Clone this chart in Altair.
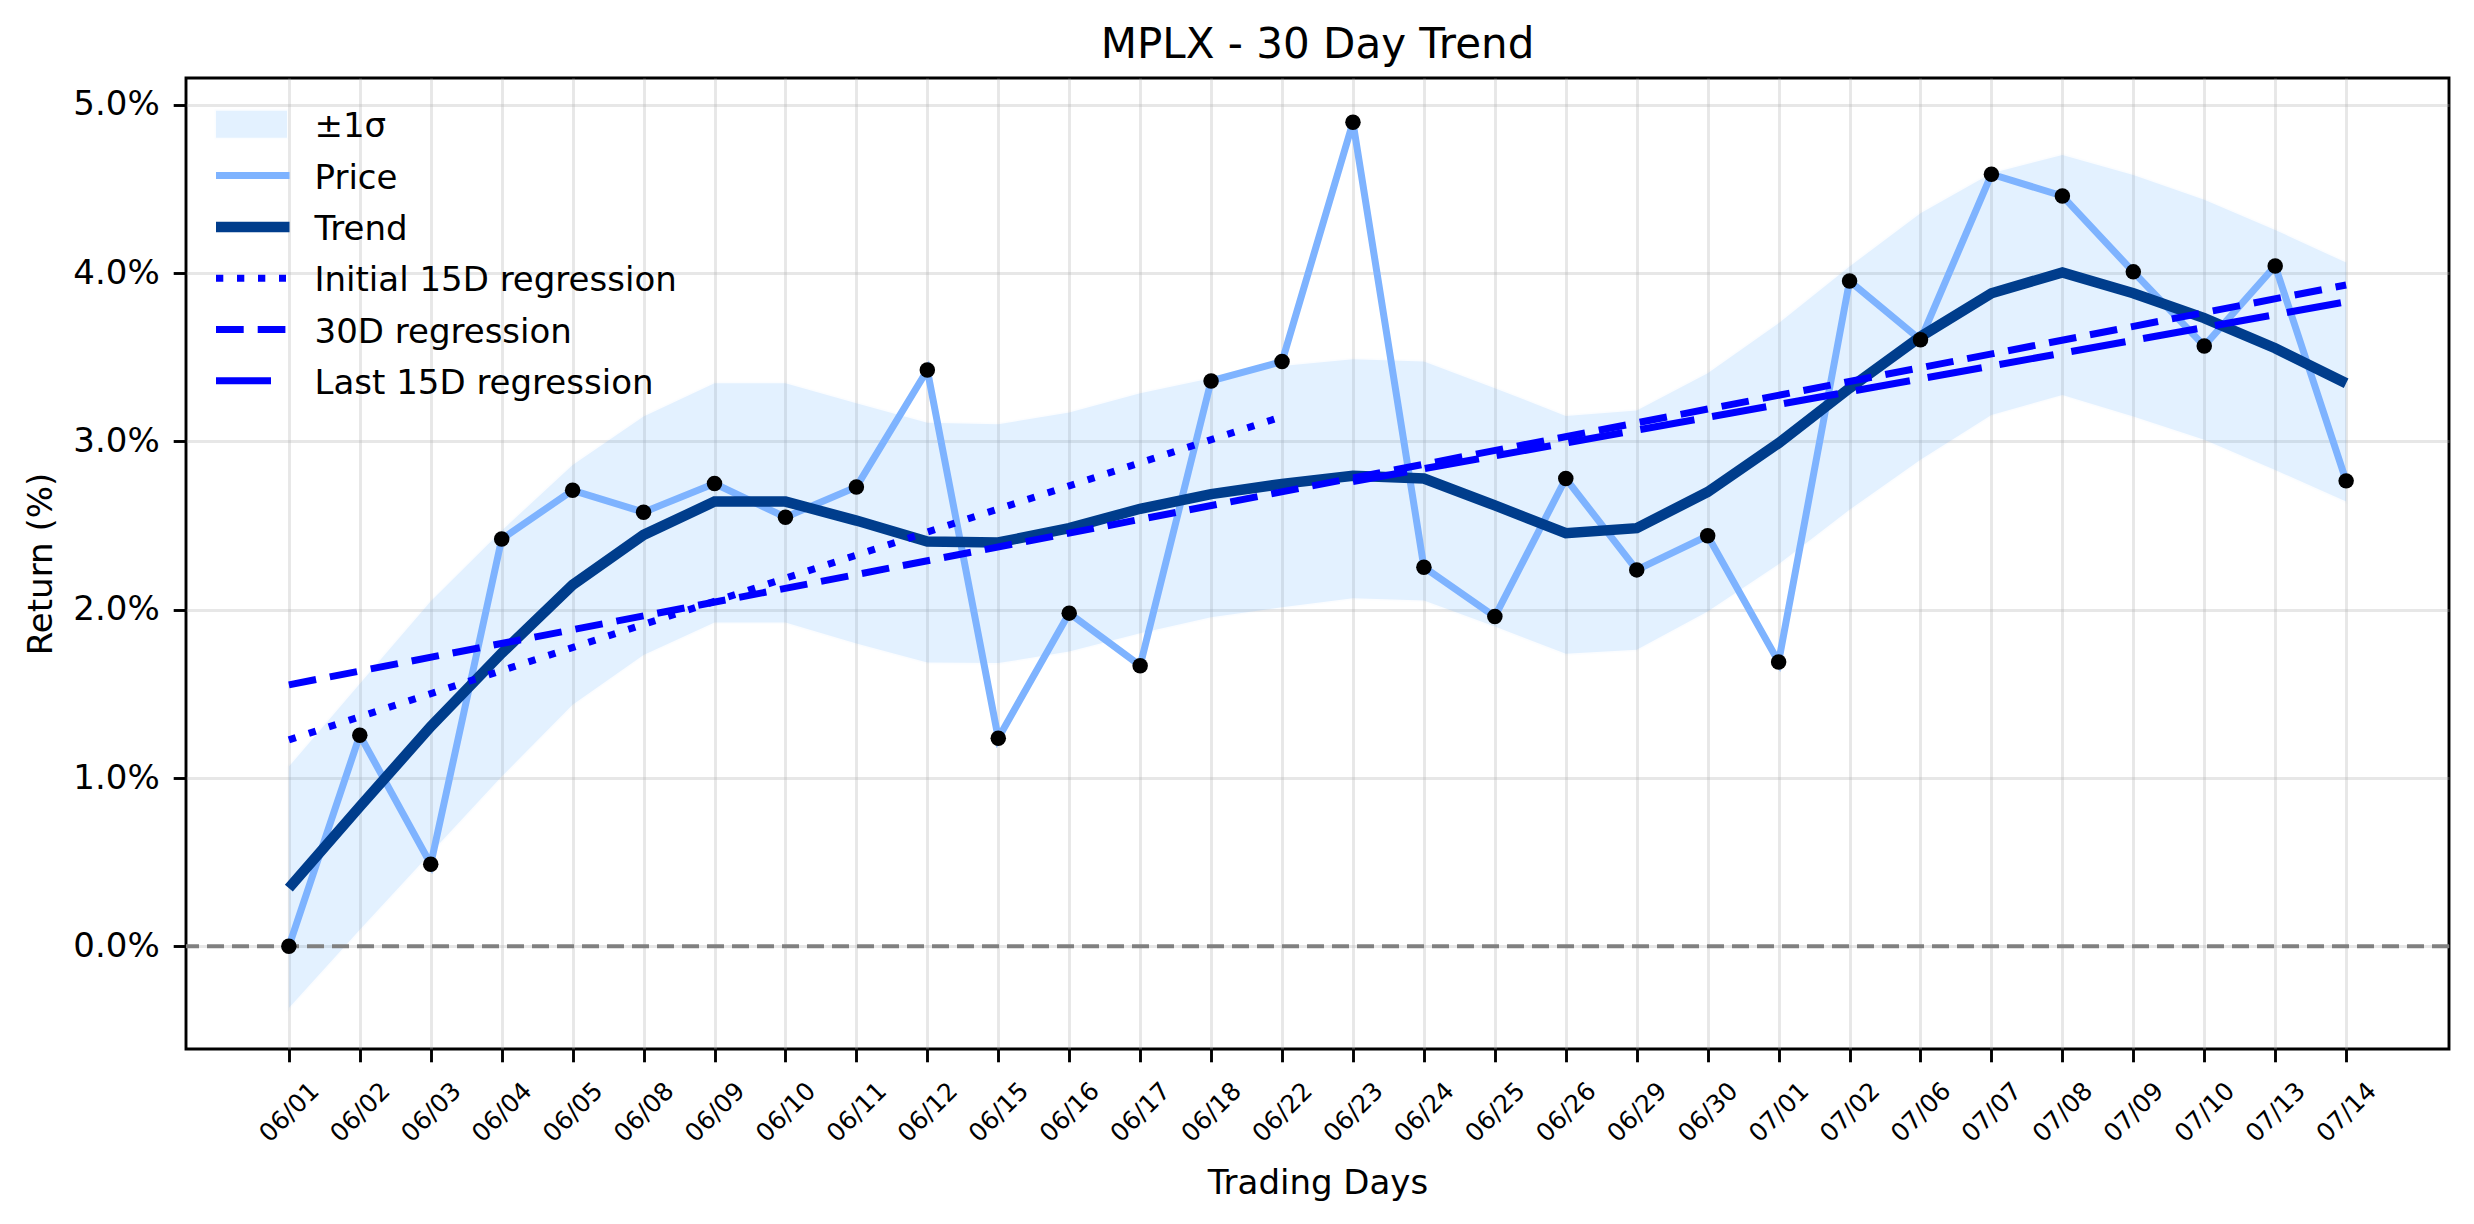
import altair as alt
import pandas as pd

# ---------------- data ----------------
dates = ["06/01", "06/02", "06/03", "06/04", "06/05", "06/08", "06/09", "06/10",
         "06/11", "06/12", "06/15", "06/16", "06/17", "06/18", "06/22", "06/23",
         "06/24", "06/25", "06/26", "06/29", "06/30", "07/01", "07/02", "07/06",
         "07/07", "07/08", "07/09", "07/10", "07/13", "07/14"]

price = [0.00, 1.255, 0.488, 2.42, 2.71, 2.58, 2.75, 2.55, 2.73, 3.425,
         1.237, 1.98, 1.668, 3.36, 3.475, 4.897, 2.253, 1.96, 2.78, 2.237,
         2.44, 1.69, 3.954, 3.604, 4.588, 4.459, 4.008, 3.568, 4.043, 2.766]

trend = [0.346, 0.83, 1.306, 1.742, 2.148, 2.445, 2.643, 2.643, 2.53, 2.405,
         2.40, 2.485, 2.60, 2.687, 2.748, 2.796, 2.78, 2.62, 2.455, 2.485,
         2.70, 2.99, 3.317, 3.623, 3.881, 4.004, 3.881, 3.733, 3.554, 3.346]

band_upper = [1.068, 1.56, 2.05, 2.47, 2.861, 3.148, 3.346, 3.346, 3.227, 3.112,
              3.103, 3.172, 3.287, 3.376, 3.449, 3.489, 3.475, 3.317, 3.152, 3.184,
              3.406, 3.703, 4.04, 4.357, 4.594, 4.703, 4.584, 4.436, 4.257, 4.063]

band_lower = [-0.367, 0.098, 0.554, 1.009, 1.435, 1.732, 1.924, 1.924, 1.80, 1.687,
              1.683, 1.752, 1.861, 1.956, 2.015, 2.069, 2.055, 1.90, 1.738, 1.762,
              1.99, 2.27, 2.594, 2.891, 3.158, 3.277, 3.148, 3.01, 2.831, 2.643]

# regression lines: day index of the ends and value at the ends
reg_initial_idx = [0, 14]
reg_initial_val = [1.227, 3.148]
reg_30d_idx = [0, 29]
reg_30d_val = [1.554, 3.93]
reg_last_idx = [15, 29]
reg_last_val = [2.762, 3.83]

zero_level = [0.0]
y_ticks = [0, 1, 2, 3, 4, 5]

chart_title = "MPLX - 30 Day Trend"
legend_labels = ["\u00b11\u03c3", "Price", "Trend", "Initial 15D regression",
                 "30D regression", "Last 15D regression"]

# ---------------- styling ----------------
FONT = "DejaVu Sans"
W, H = 2263, 971
C_BAND = "#4da6ff"
C_PRICE = "#7eb3ff"
C_TREND = "#003d8c"
C_REG = "#0000ff"

df = pd.DataFrame({
    "idx": list(range(len(dates))),
    "date": dates,
    "price": price,
    "trend": trend,
    "upper": band_upper,
    "lower": band_lower,
})

x_scale = alt.Scale(domain=[-1.45, len(dates) - 1 + 1.45], nice=False, zero=False)
y_scale = alt.Scale(domain=[-0.61, 5.16], nice=False, zero=False)

label_expr = "[" + ",".join("'" + d + "'" for d in dates) + "][datum.value]"

x_axis = alt.Axis(
    values=list(range(len(dates))), labelExpr=label_expr,
    labelAngle=315, labelAlign="center", labelBaseline="middle",
    labelPadding=50, labelFontSize=25, labelOverlap=False, labelFlush=False,
    title="Trading Days", titleFontSize=34, titleY=144, titleBaseline="alphabetic",
)
y_axis = alt.Axis(
    values=y_ticks, labelExpr="format(datum.value, '.1f') + '%'",
    labelFontSize=34, labelPadding=14,
    title="Return (%)", titleFontSize=34, titleX=-135, titleBaseline="alphabetic",
)

X = alt.X("idx:Q", scale=x_scale, axis=x_axis)


def Y(field):
    return alt.Y(field + ":Q", scale=y_scale, axis=y_axis)


base = alt.Chart(df)

band = base.mark_area(color=C_BAND, opacity=0.15, stroke=C_BAND,
                      strokeOpacity=0.12, strokeWidth=3).encode(
    x=X, y=Y("lower"), y2="upper:Q")

zero = alt.Chart(pd.DataFrame({"v": zero_level})).mark_rule(
    color="#808080", strokeWidth=4, strokeDash=[17, 8]).encode(y=Y("v"))

price_line = base.mark_line(color=C_PRICE, strokeWidth=7).encode(x=X, y=Y("price"))
trend_line = base.mark_line(color=C_TREND, strokeWidth=10.5).encode(x=X, y=Y("trend"))


def reg_layer(idx, val, dash):
    d = pd.DataFrame({"idx": idx, "val": val})
    return alt.Chart(d).mark_line(color=C_REG, strokeWidth=7, strokeDash=dash).encode(
        x=X, y=Y("val"))


DASH_DOT = [7.3, 13.7]
DASH_30 = [27.7, 14]
DASH_LAST = [55, 18]

reg_initial = reg_layer(reg_initial_idx, reg_initial_val, DASH_DOT)
reg_30 = reg_layer(reg_30d_idx, reg_30d_val, DASH_30)
reg_last = reg_layer(reg_last_idx, reg_last_val, DASH_LAST)

points = base.mark_circle(size=240, color="black", opacity=1).encode(x=X, y=Y("price"))

one = pd.DataFrame({"k": [0]})

# ---------------- title (text above the plot area) ----------------
title_mark = alt.Chart(one).mark_text(align="center", baseline="alphabetic",
                                      fontSize=42, font=FONT, color="black").encode(
    x=alt.value(W / 2), y=alt.value(-20), text=alt.value(chart_title))

# ---------------- legend (inside, upper left, no frame) ----------------
ROW0, ROW_STEP = 46.3, 51.3
SX0, SX1, TX = 30, 103.5, 128.5
legend_layers = []
sym_styles = [
    None,
    dict(color=C_PRICE, strokeWidth=7),
    dict(color=C_TREND, strokeWidth=10.5),
    dict(color=C_REG, strokeWidth=7, strokeDash=DASH_DOT),
    dict(color=C_REG, strokeWidth=7, strokeDash=DASH_30),
    dict(color=C_REG, strokeWidth=7, strokeDash=DASH_LAST),
]
for i, lab in enumerate(legend_labels):
    ry = ROW0 + ROW_STEP * i
    if i == 0:
        sym = alt.Chart(one).mark_rect(color=C_BAND, opacity=0.15, stroke=C_BAND,
                                       strokeOpacity=0.12, strokeWidth=3).encode(
            x=alt.value(SX0), x2=alt.value(SX0 + 71),
            y=alt.value(ry - 13.5), y2=alt.value(ry + 13.5))
    else:
        x_end = SX1 if i < 3 else SX0 + 70
        sym = alt.Chart(one).mark_rule(**sym_styles[i]).encode(
            x=alt.value(SX0), x2=alt.value(x_end), y=alt.value(ry))
    txt = alt.Chart(one).mark_text(align="left", baseline="alphabetic", fontSize=34,
                                   font=FONT, color="black").encode(
        x=alt.value(TX), y=alt.value(ry + 13), text=alt.value(lab))
    legend_layers += [sym, txt]

chart = alt.layer(
    band, zero, price_line, trend_line, reg_initial, reg_30, reg_last, points,
    title_mark, *legend_layers
).properties(
    width=W, height=H,
    padding={"left": 186, "top": 78, "right": 25, "bottom": 175},
    autosize=alt.AutoSizeParams(type="none"),
).configure(font=FONT, background="white").configure_view(
    stroke="black", strokeWidth=2.9
).configure_axis(
    labelFont=FONT, titleFont=FONT, labelColor="black", titleColor="black",
    titleFontWeight="normal", domain=False, grid=True,
    gridColor="#b0b0b0", gridOpacity=0.3, gridWidth=2.9,
    tickColor="black", tickWidth=2.9, tickSize=12.8,
)

chart.save("out.html", embed_options={"renderer": "svg", "actions": False})
